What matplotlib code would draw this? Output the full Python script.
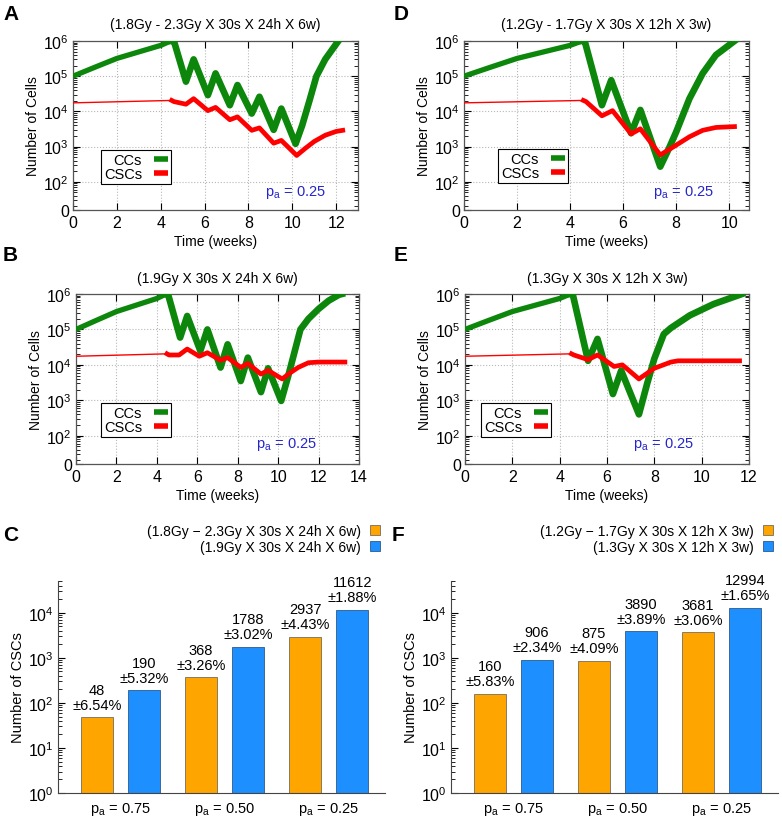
import numpy as np
import matplotlib
matplotlib.use('Agg')
import matplotlib.pyplot as plt
from matplotlib.ticker import FixedLocator, FixedFormatter, LogLocator, NullFormatter
from matplotlib.lines import Line2D
from matplotlib.patches import Patch

plt.rcParams['font.family'] = ['Liberation Sans', 'DejaVu Sans']
plt.rcParams['mathtext.fontset'] = 'custom'
plt.rcParams['mathtext.rm'] = 'Liberation Sans'
plt.rcParams['mathtext.it'] = 'Liberation Sans:italic'
plt.rcParams['mathtext.bf'] = 'Liberation Sans:bold'

GREEN = '#0c870c'
RED = '#ff0000'
ORANGE = '#ffa500'
BLUE = '#1e8fff'
PA_BLUE = '#2525cc'

# --- panel A: (1.8Gy - 2.3Gy X 30s X 24h X 6w)
a_cc_t = [0, 1, 2, 3, 4, 4.45, 4.6, 5.15, 5.5, 6.15, 6.5, 7.15, 7.5, 8.15, 8.5, 9.15, 9.5,
          10.15, 10.45, 10.8, 11.1, 11.5, 12.1]
a_cc_n = [1e5, 1.8e5, 3.2e5, 4.9e5, 7.5e5, 1e6, 1e6, 7e4, 3e5, 2.9e4, 1.2e5, 1.5e4, 5.6e4,
          8.7e3, 2.6e4, 3e3, 1.2e4, 1.2e3, 4e3, 2.2e4, 1e5, 3e5, 1e6]
a_csc_t = [0, 4.5, 4.6, 5.15, 5.5, 6.15, 6.5, 7.15, 7.5, 8.15, 8.5, 9.15, 9.5, 10.2, 10.6,
           11.0, 11.5, 12.0, 12.3]
a_csc_n = [1.75e4, 2.05e4, 1.9e4, 1.6e4, 2.3e4, 1.05e4, 1.3e4, 5.8e3, 7e3, 2.9e3, 3.4e3,
           1.25e3, 1.5e3, 5.6e2, 9e2, 1.4e3, 2.1e3, 2.7e3, 2.9e3]

# --- panel B: (1.9Gy X 30s X 24h X 6w)
b_cc_t = [0, 1, 2, 3, 4, 4.45, 4.55, 5.15, 5.5, 6.15, 6.5, 7.15, 7.5, 8.15, 8.5, 9.15, 9.5,
          10.15, 10.5, 10.8, 11.1, 11.5, 12.0, 12.5, 13.0, 13.15]
b_cc_n = [1e5, 1.8e5, 3.2e5, 4.9e5, 7.5e5, 1e6, 1e6, 5.9e4, 2.4e5, 2.5e4, 1e5, 8.4e3, 3.8e4,
          3.5e3, 1.6e4, 1.7e3, 8e3, 9.6e2, 4.9e3, 2.2e4, 1e5, 2e5, 3.8e5, 6.5e5, 9.5e5, 1e6]
b_csc_t = [0, 4.5, 4.6, 5.1, 5.5, 6.1, 6.5, 7.15, 7.5, 8.15, 8.5, 9.15, 9.5, 10.2, 10.6,
           11.0, 11.5, 12.0, 13.3]
b_csc_n = [1.75e4, 2.05e4, 1.9e4, 1.9e4, 2.8e4, 1.75e4, 2.2e4, 1.35e4, 1.6e4, 8.5e3, 1.1e4,
           5.5e3, 7e3, 4e3, 6e3, 8.5e3, 1.15e4, 1.2e4, 1.2e4]

# --- panel D: (1.2Gy - 1.7Gy X 30s X 12h X 3w)
d_cc_t = [0, 1, 2, 3, 4, 4.45, 4.55, 5.2, 5.55, 6.3, 6.65, 7.4, 7.7, 8.0, 8.5, 9.0, 9.5, 10.2]
d_cc_n = [1e5, 1.8e5, 3.2e5, 4.9e5, 7.5e5, 1e6, 1e6, 1.5e4, 7.7e4, 2.4e3, 1.1e4, 2.7e2,
          8e2, 2.6e3, 2.3e4, 1.2e5, 4e5, 1e6]
d_csc_t = [0, 4.5, 4.6, 5.2, 5.6, 6.3, 6.65, 7.4, 8.0, 8.5, 9.0, 9.5, 10.2]
d_csc_n = [1.75e4, 2.05e4, 1.9e4, 7.5e3, 1.05e4, 2.3e3, 3.2e3, 5.8e2, 1.1e3, 1.9e3, 2.9e3,
           3.5e3, 3.7e3]

# --- panel E: (1.3Gy X 30s X 12h X 3w)
e_cc_t = [0, 1, 2, 3, 4, 4.45, 4.55, 5.2, 5.6, 6.25, 6.6, 7.35, 7.7, 8.0, 8.4, 8.7, 9.5,
          10.5, 11.7]
e_cc_n = [1e5, 1.8e5, 3.2e5, 4.9e5, 7.5e5, 1e6, 1e6, 1.3e4, 5.4e4, 1.5e3, 6.9e3, 4e2, 3e3,
          1.5e4, 7.4e4, 1.1e5, 2.5e5, 5.2e5, 1e6]
e_csc_t = [0, 4.5, 4.6, 5.2, 5.6, 6.3, 6.65, 7.35, 8.0, 8.7, 9.0, 11.6]
e_csc_n = [1.75e4, 2.05e4, 1.9e4, 1.4e4, 1.9e4, 9e3, 1e4, 4e3, 8e3, 1.2e4, 1.3e4, 1.3e4]

# --- panels C and F: number of CSCs
pa_labels = [r'p$_{\mathrm{a}}$ = 0.75', r'p$_{\mathrm{a}}$ = 0.50', r'p$_{\mathrm{a}}$ = 0.25']
c_orange = [48, 368, 2937]
c_orange_err = [6.54, 3.26, 4.43]
c_blue = [190, 1788, 11612]
c_blue_err = [5.32, 3.02, 1.88]
c_names = ['(1.8Gy \u2212 2.3Gy X 30s X 24h X 6w)', '(1.9Gy X 30s X 24h X 6w)']
f_orange = [160, 875, 3681]
f_orange_err = [5.83, 4.09, 3.06]
f_blue = [906, 3890, 12994]
f_blue_err = [2.34, 3.89, 1.65]
f_names = ['(1.2Gy \u2212 1.7Gy X 30s X 12h X 3w)', '(1.3Gy X 30s X 12h X 3w)']

Y_BOTTOM = 10 ** 1.2
TREAT_START = 4.5


def growth_panel(ax, cc_t, cc_n, csc_t, csc_n, xmax, xticks, title, leg_xy, pa_xy):
    cc_t = np.asarray(cc_t)
    cc_n = np.asarray(cc_n)
    csc_t = np.asarray(csc_t)
    csc_n = np.asarray(csc_n)
    # thinner before treatment, the run-to-run spread makes the band wider afterwards
    ax.plot(cc_t[cc_t <= TREAT_START], cc_n[cc_t <= TREAT_START], color=GREEN, lw=3.8,
            solid_capstyle='butt', zorder=3)
    ax.plot(cc_t[cc_t >= 4.4], cc_n[cc_t >= 4.4], color=GREEN, lw=4.8,
            solid_joinstyle='round', zorder=3)
    ax.plot(csc_t[csc_t <= TREAT_START], csc_n[csc_t <= TREAT_START], color=RED, lw=1.0, zorder=4)
    ax.plot(csc_t[csc_t >= TREAT_START], csc_n[csc_t >= TREAT_START], color=RED, lw=3.4,
            solid_joinstyle='round', zorder=4)

    ax.set_yscale('log')
    ax.set_ylim(Y_BOTTOM, 1e6)
    ax.set_xlim(0, xmax)
    ax.set_xticks(xticks)
    majors = [Y_BOTTOM, 1e2, 1e3, 1e4, 1e5, 1e6]
    ax.yaxis.set_major_locator(FixedLocator(majors))
    ax.yaxis.set_major_formatter(FixedFormatter(['0', '$10^2$', '$10^3$', '$10^4$', '$10^5$', '$10^6$']))
    ax.yaxis.set_minor_locator(LogLocator(base=10, subs=np.arange(2, 10), numticks=20))
    ax.yaxis.set_minor_formatter(NullFormatter())
    ax.tick_params(which='both', direction='in', top=True, right=True, labelsize=11.5)
    ax.tick_params(which='major', length=5, width=0.8)
    ax.tick_params(which='minor', length=3, width=0.6)
    ax.tick_params(axis='y', pad=3)
    ax.grid(True, which='major', linestyle=':', color='#b8b8b8', lw=0.8)
    for s in ax.spines.values():
        s.set_color('#555555')
        s.set_linewidth(0.9)

    ax.set_title(title, fontsize=10, pad=9)
    ax.set_xlabel('Time (weeks)', fontsize=10, labelpad=3)
    ax.set_ylabel('Number of Cells', fontsize=10, labelpad=2)

    handles = [Line2D([0], [0], color=GREEN, lw=4, solid_capstyle='butt', label='CCs'),
               Line2D([0], [0], color=RED, lw=4, solid_capstyle='butt', label='CSCs')]
    leg = ax.legend(handles=handles, loc='upper left', bbox_to_anchor=leg_xy, borderaxespad=0,
                    markerfirst=False, fontsize=10.5, handlelength=1.0, handletextpad=0.8,
                    labelspacing=0.0, borderpad=0.2, fancybox=False, framealpha=1,
                    edgecolor='black')
    leg.get_frame().set_linewidth(0.8)
    ax.text(pa_xy[0], pa_xy[1], r'p$_{\mathrm{a}}$ = 0.25', transform=ax.transAxes,
            color=PA_BLUE, fontsize=10.5, ha='center', va='center')


def csc_bars(ax, orange, orange_err, blue, blue_err, names):
    x = np.arange(len(pa_labels))
    ax.bar(x - 0.226, orange, width=0.31, color=ORANGE, edgecolor='#8a7a60', lw=0.7)
    ax.bar(x + 0.226, blue, width=0.31, color=BLUE, edgecolor='#3a6a9a', lw=0.7)
    for xi, v, e in zip(x - 0.226, orange, orange_err):
        ax.annotate(f'{v}\n\u00b1{e:.2f}%', (xi, v), xytext=(0, 4), textcoords='offset points',
                    ha='center', va='bottom', fontsize=10.5, linespacing=1.1)
    for xi, v, e in zip(x + 0.226, blue, blue_err):
        ax.annotate(f'{v}\n\u00b1{e:.2f}%', (xi, v), xytext=(0, 4), textcoords='offset points',
                    ha='center', va='bottom', fontsize=10.5, linespacing=1.1)

    ax.set_yscale('log')
    ax.set_ylim(1, 5.1e4)
    ax.set_xlim(-0.6, 2.54)
    ax.set_xticks(x)
    ax.set_xticklabels(pa_labels, fontsize=10.5)
    ax.yaxis.set_major_locator(FixedLocator([1, 1e1, 1e2, 1e3, 1e4]))
    ax.yaxis.set_major_formatter(FixedFormatter(['$10^0$', '$10^1$', '$10^2$', '$10^3$', '$10^4$']))
    ax.yaxis.set_minor_locator(LogLocator(base=10, subs=np.arange(2, 10), numticks=20))
    ax.yaxis.set_minor_formatter(NullFormatter())
    ax.tick_params(axis='y', which='both', direction='in', labelsize=11.5, pad=3)
    ax.tick_params(axis='y', which='major', length=5, width=0.8)
    ax.tick_params(axis='y', which='minor', length=3, width=0.6)
    ax.tick_params(axis='x', length=0, pad=5)
    ax.spines['top'].set_visible(False)
    ax.spines['right'].set_visible(False)
    ax.spines['left'].set_color('#444444')
    ax.spines['bottom'].set_color('#444444')
    ax.set_ylabel('Number of CSCs', fontsize=10.5, labelpad=2)

    handles = [Patch(facecolor=ORANGE, edgecolor='#8a7a60', lw=0.7, label=names[0]),
               Patch(facecolor=BLUE, edgecolor='#3a6a9a', lw=0.7, label=names[1])]
    ax.legend(handles=handles, loc='upper right', bbox_to_anchor=(0.985, 1.27), borderaxespad=0,
              frameon=False, markerfirst=False, fontsize=10, handlelength=0.75, handleheight=0.75,
              handletextpad=0.6, labelspacing=0.15, borderpad=0)


fig = plt.figure(figsize=(7.82, 8.2), dpi=100)

ax_a = fig.add_axes([0.0934, 0.7427, 0.3645, 0.2061])
ax_d = fig.add_axes([0.5934, 0.7427, 0.3645, 0.2061])
ax_b = fig.add_axes([0.0972, 0.4329, 0.3619, 0.2073])
ax_e = fig.add_axes([0.5946, 0.4329, 0.3632, 0.2073])
ax_c = fig.add_axes([0.0742, 0.0317, 0.418, 0.2585])
ax_f = fig.add_axes([0.5767, 0.0317, 0.418, 0.2585])

growth_panel(ax_a, a_cc_t, a_cc_n, a_csc_t, a_csc_n, 13, range(0, 13, 2),
             '(1.8Gy - 2.3Gy X 30s X 24h X 6w)', (0.098, 0.355), (0.78, 0.107))
growth_panel(ax_b, b_cc_t, b_cc_n, b_csc_t, b_csc_n, 14, range(0, 15, 2),
             '(1.9Gy X 30s X 24h X 6w)', (0.088, 0.359), (0.745, 0.118))
growth_panel(ax_d, d_cc_t, d_cc_n, d_csc_t, d_csc_n, 10.75, range(0, 11, 2),
             '(1.2Gy - 1.7Gy X 30s X 12h X 3w)', (0.119, 0.36), (0.77, 0.107))
growth_panel(ax_e, e_cc_t, e_cc_n, e_csc_t, e_csc_n, 12, range(0, 13, 2),
             '(1.3Gy X 30s X 12h X 3w)', (0.056, 0.359), (0.70, 0.118))

csc_bars(ax_c, c_orange, c_orange_err, c_blue, c_blue_err, c_names)
csc_bars(ax_f, f_orange, f_orange_err, f_blue, f_blue_err, f_names)

for letter, px, py in [('A', 3, 5), ('B', 3, 246), ('C', 3, 526),
                       ('D', 394, 5), ('E', 394, 246), ('F', 392, 526)]:
    fig.text(px / 782, 1 - py / 820, letter, fontsize=15, fontweight='bold', ha='left', va='top')

fig.savefig('out.png', dpi=100)
